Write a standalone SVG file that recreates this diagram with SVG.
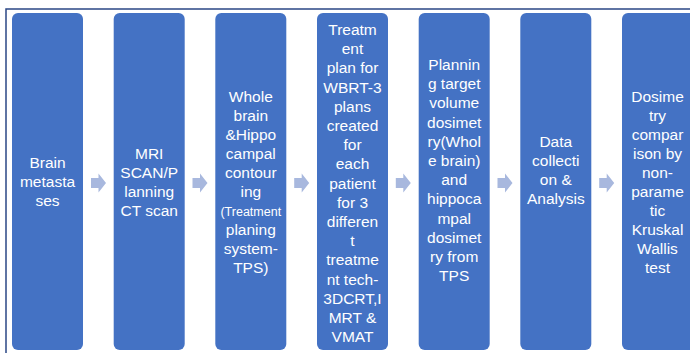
<svg xmlns="http://www.w3.org/2000/svg" width="690" height="353" viewBox="0 0 690 353">
<defs>
<style>
.box{fill:#4472C4;}
.t{font-family:"Liberation Sans",Arial,sans-serif;font-size:15.5px;fill:#FFFFFF;text-anchor:middle;}
.s{font-size:12.5px;}
.arr{fill:#A8B8DE;}
.frame{fill:none;stroke:#2B4785;stroke-width:1.5;}
</style>
<path id="arrow" class="arr" d="M-7.5,-5 H0 V-9.5 L7.5,0 L0,9.5 V5 H-7.5 Z"/>
</defs>
<rect width="690" height="353" fill="#FFFFFF"/>
<rect class="frame" x="6" y="9" width="700" height="360"/>

<g id="connectors">
<use href="#arrow" x="98.5" y="183"/>
<use href="#arrow" x="200" y="183"/>
<use href="#arrow" x="301.7" y="183"/>
<use href="#arrow" x="403.3" y="183"/>
<use href="#arrow" x="505" y="183"/>
<use href="#arrow" x="606.7" y="183"/>
</g>

<g id="n1">
<rect class="box" x="12" y="13" width="71" height="337" rx="6"/>
<text class="t"><tspan x="47.5" y="168">Brain</tspan><tspan x="47.5" y="187">metasta</tspan><tspan x="47.5" y="206">ses</tspan></text>
</g>

<g id="n2">
<rect class="box" x="113.7" y="13" width="71" height="337" rx="6"/>
<text class="t"><tspan x="149.2" y="159">MRI</tspan><tspan x="149.2" y="178">SCAN/P</tspan><tspan x="149.2" y="197">lanning</tspan><tspan x="149.2" y="216">CT scan</tspan></text>
</g>

<g id="n3">
<rect class="box" x="215.3" y="13" width="71" height="337" rx="6"/>
<text class="t"><tspan x="250.8" y="102">Whole</tspan><tspan x="250.8" y="121">brain</tspan><tspan x="250.8" y="140">&amp;Hippo</tspan><tspan x="250.8" y="159">campal</tspan><tspan x="250.8" y="178">contour</tspan><tspan x="250.8" y="197">ing</tspan><tspan x="250.8" y="216" class="s">(Treatment</tspan><tspan x="250.8" y="235">planing</tspan><tspan x="250.8" y="254">system-</tspan><tspan x="250.8" y="273">TPS)</tspan></text>
</g>

<g id="n4">
<rect class="box" x="317" y="13" width="71" height="337" rx="6"/>
<text class="t"><tspan x="352.5" y="35">Treatm</tspan><tspan x="352.5" y="54.2">ent</tspan><tspan x="352.5" y="73.4">plan for</tspan><tspan x="352.5" y="92.6">WBRT-3</tspan><tspan x="352.5" y="111.8">plans</tspan><tspan x="352.5" y="131">created</tspan><tspan x="352.5" y="150.2">for</tspan><tspan x="352.5" y="169.4">each</tspan><tspan x="352.5" y="188.6">patient</tspan><tspan x="352.5" y="207.8">for 3</tspan><tspan x="352.5" y="227">differen</tspan><tspan x="352.5" y="246.2">t</tspan><tspan x="352.5" y="265.4">treatme</tspan><tspan x="352.5" y="284.6">nt tech-</tspan><tspan x="352.5" y="303.8">3DCRT,I</tspan><tspan x="352.5" y="323">MRT &amp;</tspan><tspan x="352.5" y="342.2">VMAT</tspan></text>
</g>

<g id="n5">
<rect class="box" x="418.7" y="13" width="71" height="337" rx="6"/>
<text class="t"><tspan x="454.2" y="70">Plannin</tspan><tspan x="454.2" y="89.2">g target</tspan><tspan x="454.2" y="108.4">volume</tspan><tspan x="454.2" y="127.6">dosimet</tspan><tspan x="454.2" y="146.8">ry(Whol</tspan><tspan x="454.2" y="166">e brain)</tspan><tspan x="454.2" y="185.2">and</tspan><tspan x="454.2" y="204.4">hippoca</tspan><tspan x="454.2" y="223.6">mpal</tspan><tspan x="454.2" y="242.8">dosimet</tspan><tspan x="454.2" y="262">ry from</tspan><tspan x="454.2" y="281.2">TPS</tspan></text>
</g>

<g id="n6">
<rect class="box" x="520.3" y="13" width="71" height="337" rx="6"/>
<text class="t"><tspan x="555.8" y="147">Data</tspan><tspan x="555.8" y="166">collecti</tspan><tspan x="555.8" y="185">on &amp;</tspan><tspan x="555.8" y="204">Analysis</tspan></text>
</g>

<g id="n7">
<rect class="box" x="622" y="13" width="80" height="337" rx="6"/>
<text class="t"><tspan x="657.5" y="102">Dosime</tspan><tspan x="657.5" y="121">try</tspan><tspan x="657.5" y="140">compar</tspan><tspan x="657.5" y="159">ison by</tspan><tspan x="657.5" y="178">non-</tspan><tspan x="657.5" y="197">parame</tspan><tspan x="657.5" y="216">tic</tspan><tspan x="657.5" y="235">Kruskal</tspan><tspan x="657.5" y="254">Wallis</tspan><tspan x="657.5" y="273">test</tspan></text>
</g>
</svg>
